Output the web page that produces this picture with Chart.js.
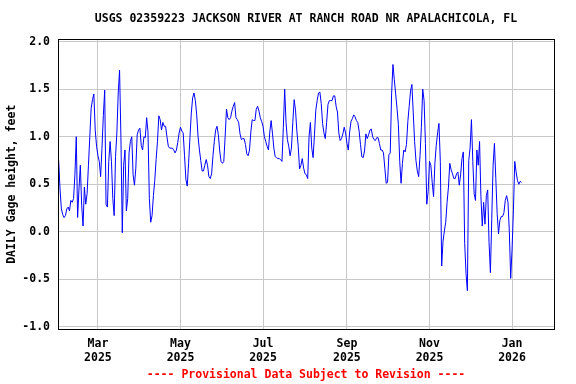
<!DOCTYPE html>
<html>
<head>
<meta charset="utf-8">
<title>USGS 02359223 gage height</title>
<script src="https://cdn.jsdelivr.net/npm/chart.js@4.4.1/dist/chart.umd.min.js"></script>
<style>
  html, body { margin: 0; padding: 0; background: #fff; }
  canvas { display: block; }
</style>
</head>
<body>
<canvas id="gageChart" width="576" height="384"></canvas>
<script>
// daily gage height (feet), first value is 2025-01-31
const startDate = '2025-01-31';
const endDate = '2026-02-01';
const gageHeight = [
    0.75,
    // Feb
    0.45, 0.24, 0.18, 0.15, 0.17, 0.24, 0.26, 0.22, 0.33, 0.31, 0.35, 0.60, 1.00, 0.15,
    0.45, 0.70, 0.28, 0.06, 0.47, 0.29, 0.40, 0.70, 1.00, 1.30, 1.39, 1.45, 1.07, 0.90,
    // Mar
    0.80, 0.74, 0.58, 0.88, 1.22, 1.49, 0.29, 0.26, 0.74, 0.95, 0.74, 0.35, 0.17, 0.79, 1.04,
    1.46, 1.70, 0.99, -0.01, 0.70, 0.86, 0.22, 0.35, 0.83, 0.95, 1.00, 0.60, 0.49, 0.67, 1.02, 1.07,
    // Apr
    1.09, 0.91, 0.86, 1.00, 0.99, 1.20, 1.05, 0.35, 0.10, 0.17, 0.38, 0.54, 0.76, 0.95, 1.22,
    1.18, 1.07, 1.15, 1.11, 1.11, 1.00, 0.90, 0.88, 0.88, 0.88, 0.86, 0.83, 0.86, 0.94, 1.04,
    // May
    1.10, 1.06, 1.04, 0.80, 0.55, 0.48, 0.72, 0.99, 1.25, 1.41, 1.46, 1.38, 1.23, 1.00, 0.86,
    0.75, 0.64, 0.64, 0.70, 0.76, 0.70, 0.58, 0.56, 0.61, 0.80, 0.95, 1.07, 1.11, 1.02, 0.85, 0.74,
    // Jun
    0.72, 0.74, 1.00, 1.29, 1.20, 1.18, 1.20, 1.27, 1.32, 1.36, 1.20, 1.18, 1.15, 1.03, 0.97,
    0.98, 0.98, 0.92, 0.82, 0.80, 0.86, 1.05, 1.18, 1.17, 1.17, 1.29, 1.32, 1.27, 1.20, 1.16,
    // Jul
    1.11, 1.00, 0.95, 0.90, 0.86, 1.05, 1.17, 1.03, 0.88, 0.79, 0.78, 0.77, 0.77, 0.76, 0.74,
    1.10, 1.50, 1.15, 0.97, 0.90, 0.80, 0.88, 1.15, 1.39, 1.28, 1.06, 0.90, 0.66, 0.70, 0.77, 0.67,
    // Aug
    0.61, 0.60, 0.56, 1.00, 1.15, 0.88, 0.78, 1.02, 1.28, 1.38, 1.46, 1.47, 1.35, 1.14, 1.04,
    0.98, 1.15, 1.34, 1.38, 1.38, 1.38, 1.43, 1.43, 1.32, 1.26, 1.04, 0.96, 0.98, 1.03, 1.10, 1.04,
    // Sep
    0.93, 0.86, 1.05, 1.16, 1.19, 1.23, 1.21, 1.17, 1.15, 1.06, 0.92, 0.79, 0.78, 0.85, 1.03,
    0.98, 1.02, 1.07, 1.08, 1.00, 0.97, 0.96, 0.99, 0.99, 0.93, 0.86, 0.86, 0.83, 0.67, 0.51,
    // Oct
    0.52, 0.81, 0.83, 1.45, 1.76, 1.60, 1.45, 1.30, 1.13, 0.74, 0.51, 0.72, 0.86, 0.84, 0.92,
    1.16, 1.32, 1.48, 1.55, 1.25, 0.95, 0.75, 0.64, 0.58, 0.80, 1.10, 1.50, 1.38, 0.93, 0.29, 0.42,
    // Nov
    0.74, 0.70, 0.52, 0.37, 0.72, 0.91, 1.04, 1.14, 0.74, -0.36, -0.10, 0.01, 0.10, 0.31, 0.47,
    0.72, 0.65, 0.61, 0.56, 0.56, 0.61, 0.63, 0.49, 0.60, 0.77, 0.84, -0.12, -0.44, -0.62, 0.75,
    // Dec
    0.88, 1.18, 0.74, 0.40, 0.33, 0.86, 0.70, 0.95, 0.37, 0.06, 0.31, 0.08, 0.38, 0.44, -0.11,
    -0.43, 0.13, 0.70, 0.93, 0.56, 0.19, -0.02, 0.12, 0.16, 0.16, 0.20, 0.33, 0.38, 0.31, 0.00, -0.49,
    // Jan 2026
    -0.19, 0.22, 0.74, 0.63, 0.54, 0.50, 0.53, 0.52
];

const tickDates = ['2025-03-01', '2025-05-01', '2025-07-01', '2025-09-01', '2025-11-01', '2026-01-01'];
const tickMonths = ['Mar', 'May', 'Jul', 'Sep', 'Nov', 'Jan'];
const tickYears = ['2025', '2025', '2025', '2025', '2025', '2026'];
const yTicks = [-1.0, -0.5, 0.0, 0.5, 1.0, 1.5, 2.0];

const chartTitle = 'USGS 02359223 JACKSON RIVER AT RANCH ROAD NR APALACHICOLA, FL';
const yTitle = 'DAILY Gage height, feet';
const footNote = '---- Provisional Data Subject to Revision ----';

// days since 2025-01-01
function dayNum(s) {
    return (Date.parse(s + 'T00:00:00Z') - Date.UTC(2025, 0, 1)) / 86400000;
}

const firstDay = dayNum(startDate);
const points = gageHeight.map((v, i) => ({ x: firstDay + i, y: v }));

const monoFont = { family: "'DejaVu Sans Mono', 'Liberation Mono', monospace", size: 11.5, weight: 'bold' };

// black box round the plot area
const framePlugin = {
    id: 'frame',
    afterDatasetsDraw(chart) {
        const { ctx, chartArea } = chart;
        const l = Math.round(chartArea.left) + 0.5;
        const t = Math.round(chartArea.top) + 0.5;
        const r = Math.round(chartArea.right) + 0.5;
        const b = Math.round(chartArea.bottom) + 0.5;
        ctx.save();
        ctx.strokeStyle = '#000';
        ctx.lineWidth = 1;
        ctx.strokeRect(l, t, r - l, b - t);
        ctx.restore();
    }
};

new Chart(document.getElementById('gageChart'), {
    type: 'line',
    data: {
        datasets: [{
            data: points,
            borderColor: '#0000ff',
            borderWidth: 1,
            pointRadius: 0,
            tension: 0,
            fill: false
        }]
    },
    options: {
        responsive: false,
        animation: false,
        events: [],
        layout: {
            padding: { left: 0, right: 22, top: 0, bottom: 0 }
        },
        plugins: {
            legend: { display: false },
            tooltip: { enabled: false },
            title: {
                display: true,
                fullSize: false,
                text: chartTitle,
                color: '#000',
                font: monoFont,
                padding: { top: 12, bottom: 13.5 }
            },
            subtitle: {
                display: true,
                fullSize: false,
                position: 'bottom',
                text: footNote,
                color: '#ff0000',
                font: monoFont,
                padding: { top: 4, bottom: 2 }
            }
        },
        scales: {
            x: {
                type: 'linear',
                min: firstDay - 0.5,
                max: dayNum(endDate),
                afterBuildTicks: (scale) => {
                    scale.ticks = tickDates.map(d => ({ value: dayNum(d) }));
                },
                afterFit: (scale) => { scale.height = 35; },
                grid: { color: '#c8c8c8', lineWidth: 1, drawTicks: false },
                border: { display: false },
                ticks: {
                    autoSkip: false,
                    maxRotation: 0,
                    padding: 8,
                    color: '#000',
                    font: monoFont,
                    callback: (value, index) => [tickMonths[index], tickYears[index]]
                }
            },
            y: {
                min: -1.025,
                max: 2.025,
                afterBuildTicks: (scale) => {
                    scale.ticks = yTicks.map(v => ({ value: v }));
                },
                afterFit: (scale) => { scale.width = 58; },
                grid: { color: '#c8c8c8', lineWidth: 1, drawTicks: false },
                border: { display: false },
                ticks: {
                    padding: 8,
                    color: '#000',
                    font: monoFont,
                    callback: (value) => Number(value).toFixed(1)
                },
                title: {
                    display: true,
                    text: yTitle,
                    color: '#000',
                    font: monoFont,
                    padding: { top: 5, bottom: 0 }
                }
            }
        }
    },
    plugins: [framePlugin]
});
</script>
</body>
</html>
